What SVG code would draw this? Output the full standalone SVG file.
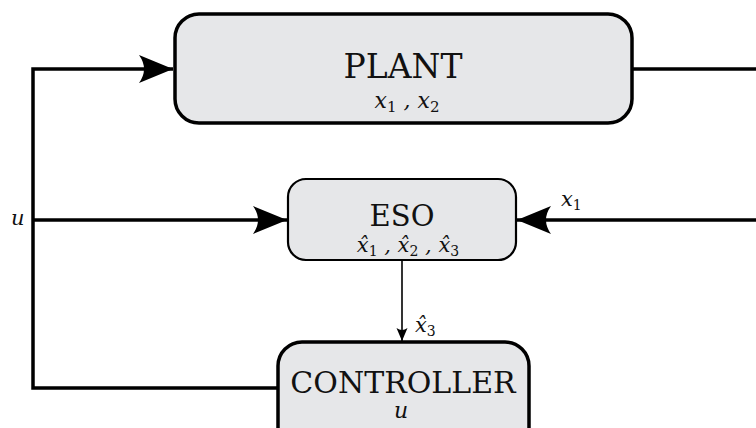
<svg xmlns="http://www.w3.org/2000/svg" width="756" height="428" viewBox="0 0 756 428">
<style>
.box{fill:#e6e7e9;stroke:#000;}
.ln{fill:none;stroke:#000;stroke-width:3.5;}
.thin{fill:none;stroke:#000;stroke-width:1.6;}
.t{font-family:"DejaVu Serif","Liberation Serif",serif;fill:#111;text-anchor:middle;}
.m{font-family:"DejaVu Serif","Liberation Serif",serif;font-style:italic;fill:#111;}
</style>
<defs>
<marker id="big" markerUnits="userSpaceOnUse" markerWidth="40" markerHeight="32" refX="36" refY="16" orient="auto" viewBox="0 0 40 32">
<path d="M36,16 L2,2 Q12,16 2,30 Z" fill="#000"/>
</marker>
<marker id="small" markerUnits="userSpaceOnUse" markerWidth="14" markerHeight="14" refX="13" refY="7" orient="auto" viewBox="0 0 14 14">
<path d="M13,7 L0,1.5 Q4,7 0,12.5 Z" fill="#000"/>
</marker>
</defs>
<rect width="756" height="428" fill="#fff"/>
<g id="connectors">
<path class="ln" d="M278,388 H33 V69 H173" marker-end="url(#big)"/>
<path class="ln" d="M33,220 H287" marker-end="url(#big)"/>
<path class="ln" d="M632,69 H756"/>
<path class="ln" d="M756,220 H517" marker-end="url(#big)"/>
<path class="thin" d="M402,261 V341" marker-end="url(#small)"/>
<text class="m" x="11" y="225" font-size="21">u</text>
<text class="m" x="561" y="206" font-size="21">x<tspan font-size="14" dy="4" font-style="normal">1</tspan></text>
<text class="m" x="415" y="332" font-size="21">x̂<tspan font-size="14" dy="4" font-style="normal">3</tspan></text>
</g>
<g id="plant">
<rect class="box" x="175" y="14" width="457" height="109" rx="24" stroke-width="3.5"/>
<text class="t" x="403" y="78" font-size="33">PLANT</text>
<text class="m" x="407" y="108" font-size="22" text-anchor="middle">x<tspan font-size="15" dy="4" font-style="normal">1</tspan><tspan dy="-4"> , x</tspan><tspan font-size="15" dy="4" font-style="normal">2</tspan></text>
</g>
<g id="eso">
<rect class="box" x="288" y="179" width="228" height="81" rx="18" stroke-width="2.2"/>
<text class="t" x="402" y="226" font-size="29">ESO</text>
<text class="m" x="408" y="252" font-size="21" text-anchor="middle">x̂<tspan font-size="14" dy="4" font-style="normal">1</tspan><tspan dy="-4"> , x̂</tspan><tspan font-size="14" dy="4" font-style="normal">2</tspan><tspan dy="-4"> , x̂</tspan><tspan font-size="14" dy="4" font-style="normal">3</tspan></text>
</g>
<g id="controller">
<rect class="box" x="278" y="342" width="251" height="110" rx="24" stroke-width="3.5"/>
<text class="t" x="403" y="393" font-size="30">CONTROLLER</text>
<text class="m" x="401" y="418" font-size="22" text-anchor="middle">u</text>
</g>
</svg>
